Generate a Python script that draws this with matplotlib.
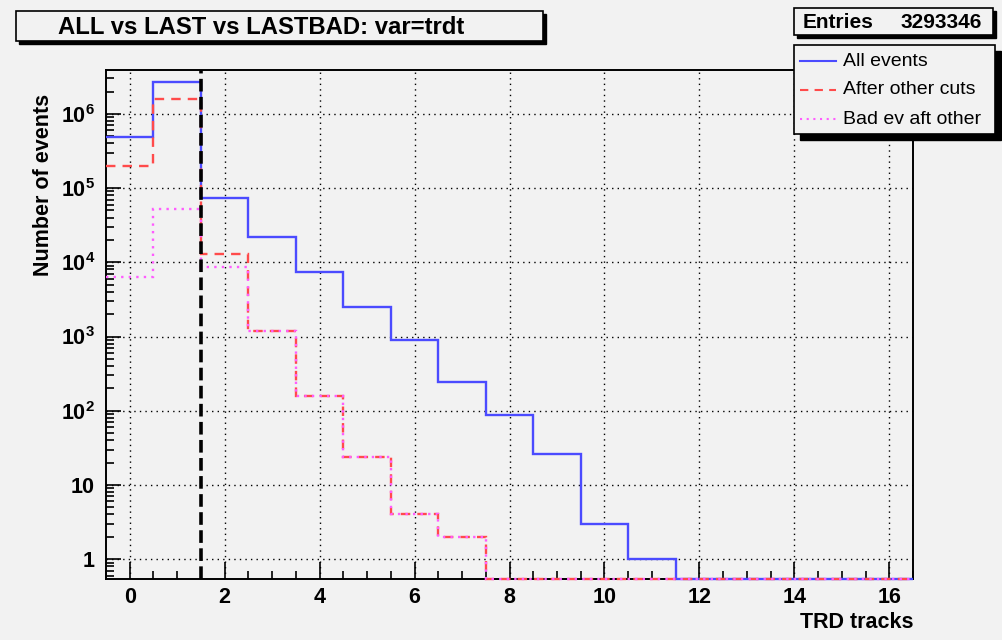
import numpy as np
import matplotlib
matplotlib.use("Agg")
import matplotlib.pyplot as plt
from matplotlib.patches import Rectangle
from matplotlib.lines import Line2D
from matplotlib.ticker import FixedLocator, FixedFormatter, LogLocator, NullFormatter, MultipleLocator

# TRD track multiplicity, one bin per integer
bin_edges = np.arange(-0.5, 17.0, 1.0)
all_events = [4.9e5, 2.69e6, 7.4e4, 2.2e4, 7.5e3, 2.5e3, 890, 240, 88, 26, 3, 1,
              0, 0, 0, 0, 0]
after_cuts = [2.0e5, 1.6e6, 1.3e4, 1.2e3, 160, 24, 4, 2,
              0, 0, 0, 0, 0, 0, 0, 0, 0]
bad_after = [6.4e3, 5.2e4, 8.7e3, 1.2e3, 160, 24, 4, 2,
             0, 0, 0, 0, 0, 0, 0, 0, 0]
series_labels = ["All events", "After other cuts", "Bad ev aft other"]
cut_value = 1.5
n_entries = 3293346

y_ticks = [1, 10, 1e2, 1e3, 1e4, 1e5, 1e6]
y_ticklabels = [r"$\mathbf{1}$", r"$\mathbf{10}$", r"$\mathbf{10^{2}}$", r"$\mathbf{10^{3}}$",
                r"$\mathbf{10^{4}}$", r"$\mathbf{10^{5}}$", r"$\mathbf{10^{6}}$"]

W, H = 1003, 640
BG = "#f2f2f2"
plt.rcParams["font.family"] = ["Liberation Sans", "DejaVu Sans"]
plt.rcParams["mathtext.fontset"] = "custom"
plt.rcParams["mathtext.bf"] = "Liberation Sans:bold"
plt.rcParams["mathtext.rm"] = "Liberation Sans"

fig = plt.figure(figsize=(W / 100, H / 100), dpi=100, facecolor=BG)


def fx(px):
    return px / W


def fy(py):
    return 1 - py / H


YMIN, YMAX = 0.54, 3.9e6
ax = fig.add_axes([fx(106), fy(579), fx(913) - fx(106), fy(70) - fy(579)], facecolor=BG)
ax.set_yscale("log")
ax.set_xlim(-0.5, 16.5)
ax.set_ylim(YMIN, YMAX)


def floor_zero(vals):
    # empty bins sit on the lower edge of the frame
    v = np.asarray(vals, dtype=float)
    return np.where(v > 0, v, YMIN)


colors = ["#4b4bff", "#ff4b4b", "#ff5cff"]
styles = ["-", (0, (4, 3)), (0, (1, 2.2))]
for vals, c, ls in zip([all_events, after_cuts, bad_after], colors, styles):
    ax.stairs(floor_zero(vals), bin_edges, baseline=None, color=c, linestyle=ls,
              linewidth=1.7, zorder=6, clip_on=False)

ax.axvline(cut_value, color="black", linestyle=(0, (3.5, 1.5)), linewidth=2.6, zorder=7)

# grid and ticks
ax.grid(True, which="major", color="black", linestyle=(0, (1, 3)), linewidth=1.0)
ax.xaxis.set_major_locator(MultipleLocator(2))
ax.xaxis.set_minor_locator(MultipleLocator(0.5))
ax.yaxis.set_major_locator(FixedLocator(y_ticks))
ax.yaxis.set_major_formatter(FixedFormatter(y_ticklabels))
ax.yaxis.set_minor_locator(LogLocator(base=10, subs=np.arange(2, 10)))
ax.yaxis.set_minor_formatter(NullFormatter())
ax.tick_params(axis="x", which="major", direction="in", length=12, width=1.2, pad=6,
               labelsize=15.5)
ax.tick_params(axis="x", which="minor", direction="in", length=6, width=1.2)
ax.tick_params(axis="y", which="major", direction="in", length=11, width=1.2, pad=8,
               labelsize=15.5)
ax.tick_params(axis="y", which="minor", direction="in", length=6, width=1.2)
for lab in ax.get_xticklabels():
    lab.set_fontweight("bold")
for s in ax.spines.values():
    s.set_linewidth(1.4)
    s.set_zorder(5)

fig.text(fx(913), fy(622), "TRD tracks", ha="right", va="center", fontsize=15.5,
         fontweight="bold")
fig.text(fx(44), fy(185), "Number of events", ha="center", va="center", rotation=90,
         fontsize=15.5, fontweight="bold")


def shadow_box(x0, y0, x1, y1, off=4):
    fig.add_artist(Rectangle((fx(x0 + off), fy(y1 + off)), fx(x1 - x0), fy(y0) - fy(y1),
                             transform=fig.transFigure, facecolor="black", edgecolor="black"))
    fig.add_artist(Rectangle((fx(x0), fy(y1)), fx(x1 - x0), fy(y0) - fy(y1),
                             transform=fig.transFigure, facecolor=BG, edgecolor="black",
                             linewidth=1.2))


# title box
shadow_box(16, 11, 543, 41, off=3)
fig.text(fx(261), fy(27), "ALL vs LAST vs LASTBAD: var=trdt", ha="center", va="center",
         fontsize=17.2, fontweight="bold")

# stats box
shadow_box(794, 8, 993, 35, off=3)
fig.text(fx(803), fy(22), "Entries", ha="left", va="center", fontsize=15, fontweight="bold")
fig.text(fx(982), fy(22), f"{n_entries}", ha="right", va="center", fontsize=15,
         fontweight="bold")

# legend box
shadow_box(794, 45, 995, 134, off=6)
for i, (lab, c, ls) in enumerate(zip(series_labels, colors, styles)):
    yy = fy(61 + 29 * i)
    fig.add_artist(Line2D([fx(800), fx(836)], [yy, yy], transform=fig.transFigure,
                          color=c, linestyle=ls, linewidth=1.5))
    fig.text(fx(843), yy, lab, ha="left", va="center", fontsize=14)

fig.savefig("out.png", dpi=100, facecolor=BG)
